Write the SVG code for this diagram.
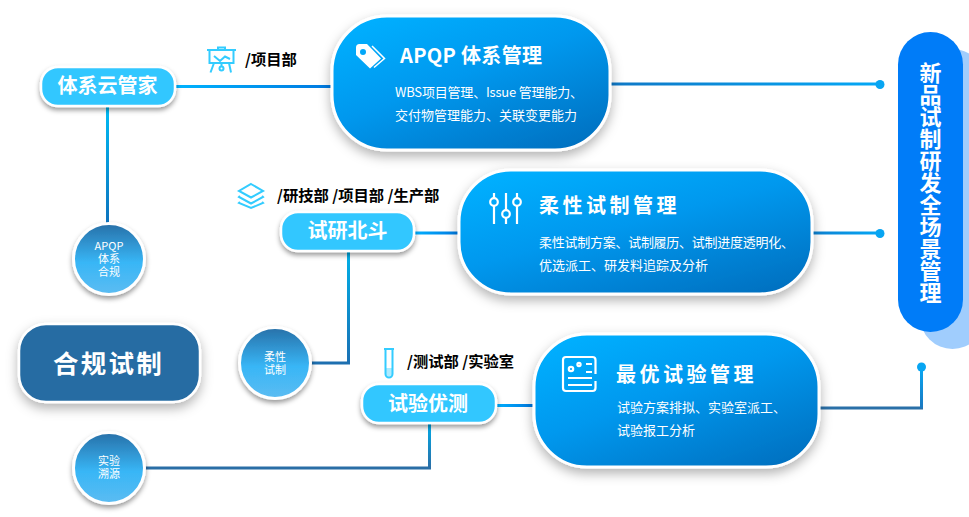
<svg xmlns="http://www.w3.org/2000/svg" width="969" height="517" viewBox="0 0 969 517">
<style>
text{font-family:"Noto Sans CJK SC","Noto Sans",sans-serif;fill:#fff}
.m{text-anchor:middle}
.pill{fill:#33c7ff;stroke:#fff;stroke-width:2.5;filter:url(#s1)}
.pt{font-size:20px;font-weight:700;text-anchor:middle}
.box{fill:url(#bg);stroke:#fff;stroke-width:3;filter:url(#s2)}
.bt{font-size:20px;font-weight:700}
.bt2{font-size:20px;font-weight:700;letter-spacing:3.5px}
.st{font-size:13px}
.dept{font-size:15.3px;font-weight:700;fill:#000}
.cir{fill:url(#cg);stroke:#fff;stroke-width:3;filter:url(#s1)}
.ct{font-size:11px;text-anchor:middle}
.ln{fill:none;stroke-width:3}
.dot{fill:#08a5f2}
.ic{fill:none;stroke:#3cf;stroke-width:2}
.iw{fill:none;stroke:#fff;stroke-width:2.2}
</style>
<defs>
<linearGradient id="bg" x1="0.12" y1="0" x2="0.88" y2="1"><stop offset="0" stop-color="#00b0ff"/><stop offset="0.45" stop-color="#0098ee"/><stop offset="1" stop-color="#0070c0"/></linearGradient>
<linearGradient id="cg" x1="0" y1="0" x2="0" y2="1"><stop offset="0" stop-color="#2870a8"/><stop offset="0.55" stop-color="#38b6f6"/><stop offset="1" stop-color="#5cbcf2"/></linearGradient>
<linearGradient id="h1" gradientUnits="userSpaceOnUse" x1="175" y1="0" x2="332" y2="0"><stop offset="0" stop-color="#00b4ff"/><stop offset="1" stop-color="#0078e0"/></linearGradient>
<linearGradient id="h2" gradientUnits="userSpaceOnUse" x1="610" y1="0" x2="880" y2="0"><stop offset="0" stop-color="#0f78c6"/><stop offset="1" stop-color="#04a8f6"/></linearGradient>
<linearGradient id="h3" gradientUnits="userSpaceOnUse" x1="414" y1="0" x2="460" y2="0"><stop offset="0" stop-color="#00b0ff"/><stop offset="1" stop-color="#0078e0"/></linearGradient>
<linearGradient id="h4" gradientUnits="userSpaceOnUse" x1="812" y1="0" x2="880" y2="0"><stop offset="0" stop-color="#0d80d0"/><stop offset="1" stop-color="#04a8f6"/></linearGradient>
<linearGradient id="h5" gradientUnits="userSpaceOnUse" x1="496" y1="0" x2="533" y2="0"><stop offset="0" stop-color="#00b0ff"/><stop offset="1" stop-color="#0078e0"/></linearGradient>
<linearGradient id="v1" gradientUnits="userSpaceOnUse" x1="0" y1="106" x2="0" y2="224"><stop offset="0" stop-color="#00bcf5"/><stop offset="1" stop-color="#0d72bd"/></linearGradient>
<linearGradient id="v2" gradientUnits="userSpaceOnUse" x1="0" y1="251" x2="0" y2="363"><stop offset="0" stop-color="#00b0e8"/><stop offset="1" stop-color="#1a70b4"/></linearGradient>
<linearGradient id="v3" gradientUnits="userSpaceOnUse" x1="0" y1="423" x2="0" y2="468"><stop offset="0" stop-color="#00acea"/><stop offset="1" stop-color="#2a6ea6"/></linearGradient>
<linearGradient id="v4" gradientUnits="userSpaceOnUse" x1="0" y1="367" x2="0" y2="408"><stop offset="0" stop-color="#08a8f4"/><stop offset="1" stop-color="#1a78c0"/></linearGradient>
<filter id="s1" x="-25%" y="-25%" width="150%" height="160%"><feDropShadow dx="0" dy="3" stdDeviation="2.5" flood-color="#000" flood-opacity="0.4"/></filter>
<filter id="s2" x="-15%" y="-25%" width="130%" height="160%"><feDropShadow dx="0" dy="5" stdDeviation="6" flood-color="#000" flood-opacity="0.3"/></filter>
</defs>

<g id="connectors">
<path class="ln" stroke="url(#h1)" d="M175 86.500H332"/>
<path class="ln" stroke="url(#h2)" d="M610 84H880"/>
<circle class="dot" cx="880" cy="84.500" r="4.500"/>
<path class="ln" stroke="url(#h3)" d="M414 233H460"/>
<path class="ln" stroke="url(#h4)" d="M812 233H880"/>
<circle class="dot" cx="880" cy="233.500" r="4.500"/>
<path class="ln" stroke="url(#h5)" d="M496 405.500H533"/>
<path class="ln" stroke="url(#v1)" d="M107.500 106V224"/>
<path class="ln" stroke="url(#v2)" d="M348.500 251V363"/>
<path class="ln" stroke="#1d6fb0" d="M311 363H350"/>
<path class="ln" stroke="url(#v3)" d="M429.500 423V468"/>
<path class="ln" stroke="#2a6ea6" d="M145 468H431"/>
<path class="ln" stroke="#2a70a8" d="M819 408H923"/>
<path class="ln" stroke="url(#v4)" d="M921.500 367V408"/>
<circle class="dot" cx="921.500" cy="367" r="4.500"/>
</g>

<g id="node-main">
<rect x="920" y="49" width="65" height="300" rx="32.500" fill="#a0cdfd"/>
<rect x="898" y="32" width="65" height="300" rx="32.500" fill="#007cf8"/>
<text x="930.500" y="62" style="writing-mode:vertical-rl;font-size:22px;font-weight:700">新品试制研发全场景管理</text>
</g>

<g id="node-cloud">
<rect class="pill" x="41" y="67" width="134" height="39" rx="17"/>
<text class="pt" x="107.500" y="93">体系云管家</text>
</g>
<g id="node-dept1">
<g class="ic"><path d="M207 50H236M218 50V47.500H225V50M209.500 50V63H233.500V50M214 56L220 61L225 56.500L230 59"/><circle cx="221.500" cy="68.500" r="2"/><path d="M214 63L210.500 72.500M229 63L231 72.500M221.500 63V66.500"/></g>
<text class="dept" x="245" y="64.500">/项目部</text>
</g>
<g id="node-apqp">
<rect class="box" x="332" y="16" width="278" height="134" rx="55"/>
<path d="M356 47.500Q356 44 359.500 44H367L381 58.500L370 68.500L356 55ZM363 49A3 3 0 1 0 363 55A3 3 0 1 0 363 49Z" fill="#fff" fill-rule="evenodd"/>
<path d="M372 46L384.500 58.500L374 67.500" fill="none" stroke="#fff" stroke-width="1.500"/>
<text class="bt" x="400" y="62.500" textLength="142">APQP 体系管理</text>
<text class="st" x="395" y="97" textLength="188">WBS项目管理、Issue 管理能力、</text>
<text class="st" x="395" y="120">交付物管理能力、关联变更能力</text>
</g>
<g id="node-apqp-c">
<circle class="cir" cx="109" cy="259" r="35.500"/>
<text class="ct" y="250"><tspan x="109">APQP</tspan><tspan x="109" dy="13">体系</tspan><tspan x="109" dy="13">合规</tspan></text>
</g>
<g id="node-dept2">
<g class="ic"><path d="M251 184L263 191L251 197.500L239 191Z"/><path d="M240 196L239 197L251 203.500L263 197L262 196"/><path d="M240 202L239 203L251 208L263 203L262 202"/></g>
<text class="dept" x="277" y="200.500">/研技部 /项目部 /生产部</text>
</g>
<g id="node-beidou">
<rect class="pill" x="281" y="212" width="133" height="39" rx="17"/>
<text class="pt" x="347.500" y="238">试研北斗</text>
</g>
<g id="node-flex">
<rect class="box" x="459" y="170" width="353" height="124" rx="52"/>
<g class="iw"><path d="M494 193V198M494 206V224M506 193V210M506 218V224M517 193V198M517 206V224"/><circle cx="494" cy="202" r="3.800"/><circle cx="506" cy="214" r="3.800"/><circle cx="517" cy="202" r="3.800"/></g>
<text class="bt2" x="539" y="213">柔性试制管理</text>
<text class="st" x="539" y="247" textLength="255">柔性试制方案、试制履历、试制进度透明化、</text>
<text class="st" x="539" y="270">优选派工、研发料追踪及分析</text>
</g>
<g id="node-flex-c">
<circle class="cir" cx="275" cy="363" r="35.500"/>
<text class="ct" y="361"><tspan x="275">柔性</tspan><tspan x="275" dy="13">试制</tspan></text>
</g>
<g id="node-compliance">
<rect x="19" y="324" width="181" height="78" rx="27" fill="#266ca3" stroke="#fff" stroke-width="2.500" filter="url(#s2)"/>
<text class="m" x="108.500" y="373" style="font-size:25.500px;font-weight:700;letter-spacing:2.200px">合规试制</text>
</g>
<g id="node-dept3">
<g class="ic"><path d="M384 349H394M385.500 349V374A3.500 3.500 0 0 0 392.500 374V349"/><path d="M386 368H392V375Q389 378 386 375Z" fill="#3cf" fill-opacity="0.4" stroke="none"/></g>
<text class="dept" x="407" y="366.500">/测试部 /实验室</text>
</g>
<g id="node-youce">
<rect class="pill" x="362" y="384" width="134" height="39" rx="17"/>
<text class="pt" x="428" y="411">试验优测</text>
</g>
<g id="node-opt">
<rect class="box" x="534" y="334" width="285" height="133" rx="53"/>
<g class="iw"><path d="M595.500 374V360Q595.500 357 592.500 357H566Q563 357 563 360V388Q563 391 566 391H592.500Q595.500 391 595.500 388V381"/><path d="M568 378H592M568 385H592M586 364H592M586 372H592"/><circle cx="571" cy="369" r="2.200"/><circle cx="579" cy="364.500" r="1.600"/></g>
<text class="bt2" x="616" y="382">最优试验管理</text>
<text class="st" x="617" y="412">试验方案排拟、实验室派工、</text>
<text class="st" x="617" y="435">试验报工分析</text>
</g>
<g id="node-trace-c">
<circle class="cir" cx="109" cy="468" r="35.500"/>
<text class="ct" y="465"><tspan x="109">实验</tspan><tspan x="109" dy="13">溯源</tspan></text>
</g>
</svg>
